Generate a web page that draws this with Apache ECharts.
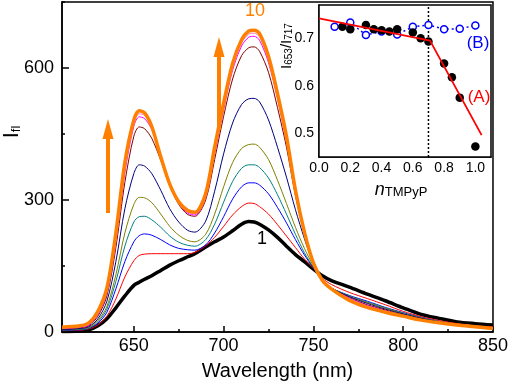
<!DOCTYPE html>
<html>
<head>
<meta charset="utf-8">
<script src="https://cdn.jsdelivr.net/npm/echarts@6/dist/echarts.min.js"></script>
<style>
html,body{margin:0;padding:0;background:#fff}
#main{width:511px;height:388px}
</style>
</head>
<body>
<div id="main"></div>
<script>
// emission spectra, curves 1..10
var wl = [610,620,625,630,635, 640,645,650,653,656, 660,665,670,675,680, 684,690,695,700,705, 710,714,717,720,725, 730,735,740,745,750, 755,760,770,780,790, 800,810,820,830,840, 850];
var c1  = [1,2,5,14,30, 55,82,106,113,120, 128,140,152,162,171, 178,193,205,216,230, 245,251,250,245,232, 215,195,176,160,143, 128,117,102,86,71, 55,40,31,23,19, 16];
var c2  = [3,4,7,16,36, 75,125,162,174,177, 178,178,178,178,178, 181,196,215,240,266, 285,293,292,285,268, 244,218,192,166,145, 122,108,90,76,62, 47,35,26,19,14, 12];
var c3  = [4,5,8,20,45, 98,160,205,219,223, 220,210,198,190,187, 186,198,225,262,302, 330,339,339,334,314, 283,248,210,175,146, 118,100,83,70,56, 44,33,24,17,12, 9];
var c4  = [4,6,9,23,52, 115,195,250,262,263, 255,238,218,204,197, 195,210,245,295,342, 372,380,380,374,350, 312,268,222,180,147, 118,100,82,68,55, 43,32,24,17,12, 10];
var c5  = [5,7,10,26,58, 130,225,290,306,305, 294,268,240,220,208, 205,222,268,330,385, 417,426,427,420,392, 345,292,238,190,150, 118,100,81,67,54, 42,32,23,17,12, 10];
var c6  = [5,8,12,30,70, 160,280,360,380,377, 360,322,280,250,231, 227,252,320,405,475, 517,530,531,523,482, 420,352,278,212,155, 120,100,80,65,52, 41,31,23,17,12, 9];
var c7  = [7,10,14,36,82, 192,340,445,466,462, 440,390,332,290,267, 263,300,392,490,575, 628,646,648,638,590, 510,420,310,225,158, 120,99,78,62,50, 39,30,22,16,11, 9];
var c8  = [8,11,16,40,88, 205,362,468,489,485, 460,398,336,292,270, 266,305,405,505,595, 650,670,672,663,612, 530,432,315,228,160, 120,99,77,60,48, 37,28,21,15,11, 9];
var c9  = [9,12,18,43,93, 214,372,475,496,492, 465,400,338,294,272, 269,310,412,512,602, 657,677,679,671,620, 537,438,318,230,162, 120,99,76,58,46, 36,27,21,15,11, 9];
var c10 = [11,14,21,47,100, 225,385,482,503,498, 467,398,336,296,276, 272,315,420,520,610, 664,684,686,678,626, 542,445,322,227,157, 117,98,72,56,45, 36,27,21,16,12, 8];
var curves = [c1,c2,c3,c4,c5,c6,c7,c8,c9,c10];
var colors = ['#000000','#ff0000','#0000ff','#008080','#808000','#000080','#800000','#ff00ff','#ff80c0','#ff8000'];
var widths = [3.5,1,1,1,1,1,1,1,1,3.5];

// inset: I653/I717 vs n(TMPyP)
var nA = [0.15,0.2,0.3,0.35,0.4,0.45,0.5,0.6,0.65,0.7,0.8,0.85,0.9,1.0];
var rA = [0.724,0.719,0.728,0.719,0.717,0.714,0.719,0.712,0.700,0.693,0.647,0.618,0.575,0.472];
var nB = [0.1,0.2,0.3,0.4,0.5,0.6,0.7,0.8,0.9,1.0];
var rB = [0.724,0.733,0.707,0.714,0.708,0.724,0.728,0.719,0.720,0.727];
var fitX = [0.0,0.71,1.04];
var fitY = [0.742,0.695,0.496];
var breakX = [0.7,0.7];
var breakY = [0.45,0.77];

// tick labels
var mainXLabels = [650,700,750,800,850];
var mainXMinor = [625,675,725,775,825];
var mainYLabels = [0,300,600];
var mainYMinor = [150,450,750];
var insetXLabels = [0,0.2,0.4,0.6,0.8,1.0];
var insetXTicks = [0.1,0.2,0.3,0.4,0.5,0.6,0.7,0.8,0.9,1.0];
var insetYLabels = [0.5,0.6,0.7];
var insetYTicks = [0.5,0.55,0.6,0.65,0.7,0.75];

var FONT = 'Liberation Sans, Arial, sans-serif';
var ORANGE = '#ff8000';

function zip(xs, ys){
	var out = [];
	for(var i=0;i<xs.length;i++){ out.push([xs[i], ys[i]]); }
	return out;
}

var series = [];
for(var k=0;k<curves.length;k++){
	series.push({
		type: 'line',
		xAxisIndex: 0,
		yAxisIndex: 0,
		data: zip(wl, curves[k]),
		showSymbol: false,
		smooth: 0.3,
		silent: true,
		lineStyle: { color: colors[k], width: widths[k] },
		z: 2 + k
	});
}
// inset
series.push({
	type: 'line',
	xAxisIndex: 2, yAxisIndex: 2,
	data: zip(breakX, breakY),
	showSymbol: false,
	lineStyle: { color: '#000', width: 1.5, type: [2, 2] },
	z: 19
});
series.push({
	type: 'line',
	xAxisIndex: 2, yAxisIndex: 2,
	data: zip(nB, rB),
	symbol: 'circle', symbolSize: 7,
	itemStyle: { color: '#fff', borderColor: '#0000ff', borderWidth: 1.5 },
	lineStyle: { color: '#0000ff', width: 1.5, type: [2, 3] },
	z: 20
});
series.push({
	type: 'scatter',
	xAxisIndex: 2, yAxisIndex: 2,
	data: zip(nA, rA),
	symbolSize: 8.5,
	itemStyle: { color: '#000', opacity: 1 },
	z: 21
});
series.push({
	type: 'line',
	xAxisIndex: 2, yAxisIndex: 2,
	data: zip(fitX, fitY),
	showSymbol: false,
	lineStyle: { color: '#ff0000', width: 1.8 },
	z: 22
});

function arrow(x, yTop, yBottom){
	return [{
		type: 'line', z: 100,
		shape: { x1: x, y1: yBottom, x2: x, y2: yTop + 18 },
		style: { stroke: ORANGE, lineWidth: 4 }
	},{
		type: 'polygon', z: 100,
		shape: { points: [[x - 5.5, yTop + 20], [x + 5.5, yTop + 20], [x, yTop]] },
		style: { fill: ORANGE }
	}];
}

var graphics = [].concat(arrow(108, 119, 213), arrow(219, 37, 130));
graphics.push({
	type: 'text', x: 255, y: 11, z: 100,
	style: { text: '10', fill: ORANGE, font: '18px ' + FONT, align: 'center', verticalAlign: 'middle' }
});
graphics.push({
	type: 'text', x: 262, y: 239, z: 100,
	style: { text: '1', fill: '#000', font: '18px ' + FONT, align: 'center', verticalAlign: 'middle' }
});
graphics.push({
	type: 'text', x: 12, y: 132, rotation: Math.PI / 2, z: 100,
	style: {
		text: '{m|I}{s|fl}', align: 'center', verticalAlign: 'middle',
		rich: {
			m: { fontSize: 22, fontFamily: FONT, fill: '#000', lineHeight: 22, verticalAlign: 'top' },
			s: { fontSize: 13, fontFamily: FONT, fill: '#000', lineHeight: 8, verticalAlign: 'bottom' }
		}
	}
});
graphics.push({
	type: 'text', x: 287, y: 46, rotation: Math.PI / 2, z: 100,
	style: {
		text: '{m|I}{s|653}{m|/I}{s|717}', align: 'center', verticalAlign: 'middle',
		rich: {
			m: { fontSize: 15, fontFamily: FONT, fill: '#000', lineHeight: 15, verticalAlign: 'top' },
			s: { fontSize: 10, fontFamily: FONT, fill: '#000', lineHeight: 6, verticalAlign: 'bottom' }
		}
	}
});
graphics.push({
	type: 'text', x: 401, y: 190, z: 100,
	style: {
		text: '{m|n}{s|TMPyP}', align: 'center', verticalAlign: 'middle',
		rich: {
			m: { fontSize: 18, fontStyle: 'italic', fontFamily: FONT, fill: '#000', lineHeight: 18, verticalAlign: 'top' },
			s: { fontSize: 13, fontFamily: FONT, fill: '#000', lineHeight: 8, verticalAlign: 'bottom' }
		}
	}
});
graphics.push({
	type: 'text', x: 478, y: 43, z: 100,
	style: { text: '(B)', fill: '#0000ff', font: '17px ' + FONT, align: 'center', verticalAlign: 'middle' }
});
graphics.push({
	type: 'text', x: 479, y: 97, z: 100,
	style: { text: '(A)', fill: '#ff0000', font: '17px ' + FONT, align: 'center', verticalAlign: 'middle' }
});

var axisLine = { show: true, onZero: false, lineStyle: { color: '#000', width: 1.5 } };

var option = {
	animation: false,
	backgroundColor: '#fff',
	textStyle: { fontFamily: FONT },
	grid: [
		{ left: 62, right: 17, top: 2, bottom: 56, show: true, borderColor: '#000', borderWidth: 1.5 },
		{ left: 319, top: 5, width: 172, height: 152, show: true, borderColor: '#000', borderWidth: 1.5, backgroundColor: '#fff', z: 10 }
	],
	xAxis: [
		{
			type: 'value', gridIndex: 0, min: 610, max: 850, position: 'bottom',
			name: 'Wavelength (nm)', nameLocation: 'middle', nameGap: 29,
			nameTextStyle: { fontSize: 20, color: '#000', fontFamily: FONT },
			axisLine: axisLine,
			axisTick: { show: true, inside: true, length: 6, customValues: mainXLabels, lineStyle: { color: '#000', width: 1.5 } },
			axisLabel: { customValues: mainXLabels, fontSize: 18, color: '#000', margin: 5, fontFamily: FONT },
			splitLine: { show: false }
		},
		{
			type: 'value', gridIndex: 0, min: 610, max: 850, position: 'bottom',
			axisLine: { show: false },
			axisTick: { show: true, inside: true, length: 3, customValues: mainXMinor, lineStyle: { color: '#000', width: 1.5 } },
			axisLabel: { show: false },
			splitLine: { show: false }
		},
		{
			type: 'value', gridIndex: 1, min: 0, max: 1.1, position: 'bottom',
			axisLine: axisLine,
			axisTick: { show: true, inside: true, length: 3, customValues: insetXTicks, lineStyle: { color: '#000', width: 1 } },
			axisLabel: { customValues: insetXLabels, fontSize: 14, color: '#000', margin: 4, fontFamily: FONT,
				formatter: function(v){ return v.toFixed(1); } },
			splitLine: { show: false }
		}
	],
	yAxis: [
		{
			type: 'value', gridIndex: 0, min: 0, max: 750, position: 'left',
			axisLine: axisLine,
			axisTick: { show: true, inside: true, length: 7, customValues: mainYLabels, lineStyle: { color: '#000', width: 1.5 } },
			axisLabel: { customValues: mainYLabels, fontSize: 18, color: '#000', margin: 8, fontFamily: FONT },
			splitLine: { show: false }
		},
		{
			type: 'value', gridIndex: 0, min: 0, max: 750, position: 'left',
			axisLine: { show: false },
			axisTick: { show: true, inside: true, length: 3, customValues: mainYMinor, lineStyle: { color: '#000', width: 1.5 } },
			axisLabel: { show: false },
			splitLine: { show: false }
		},
		{
			type: 'value', gridIndex: 1, min: 0.45, max: 0.77, position: 'left',
			axisLine: axisLine,
			axisTick: { show: true, inside: true, length: 3, customValues: insetYTicks, lineStyle: { color: '#000', width: 1 } },
			axisLabel: { customValues: insetYLabels, fontSize: 14, color: '#000', margin: 5, fontFamily: FONT,
				formatter: function(v){ return v.toFixed(1); } },
			splitLine: { show: false }
		}
	],
	series: series,
	graphic: graphics
};

var chart = echarts.init(document.getElementById('main'), null, { renderer: 'canvas' });
chart.setOption(option);
</script>
</body>
</html>
